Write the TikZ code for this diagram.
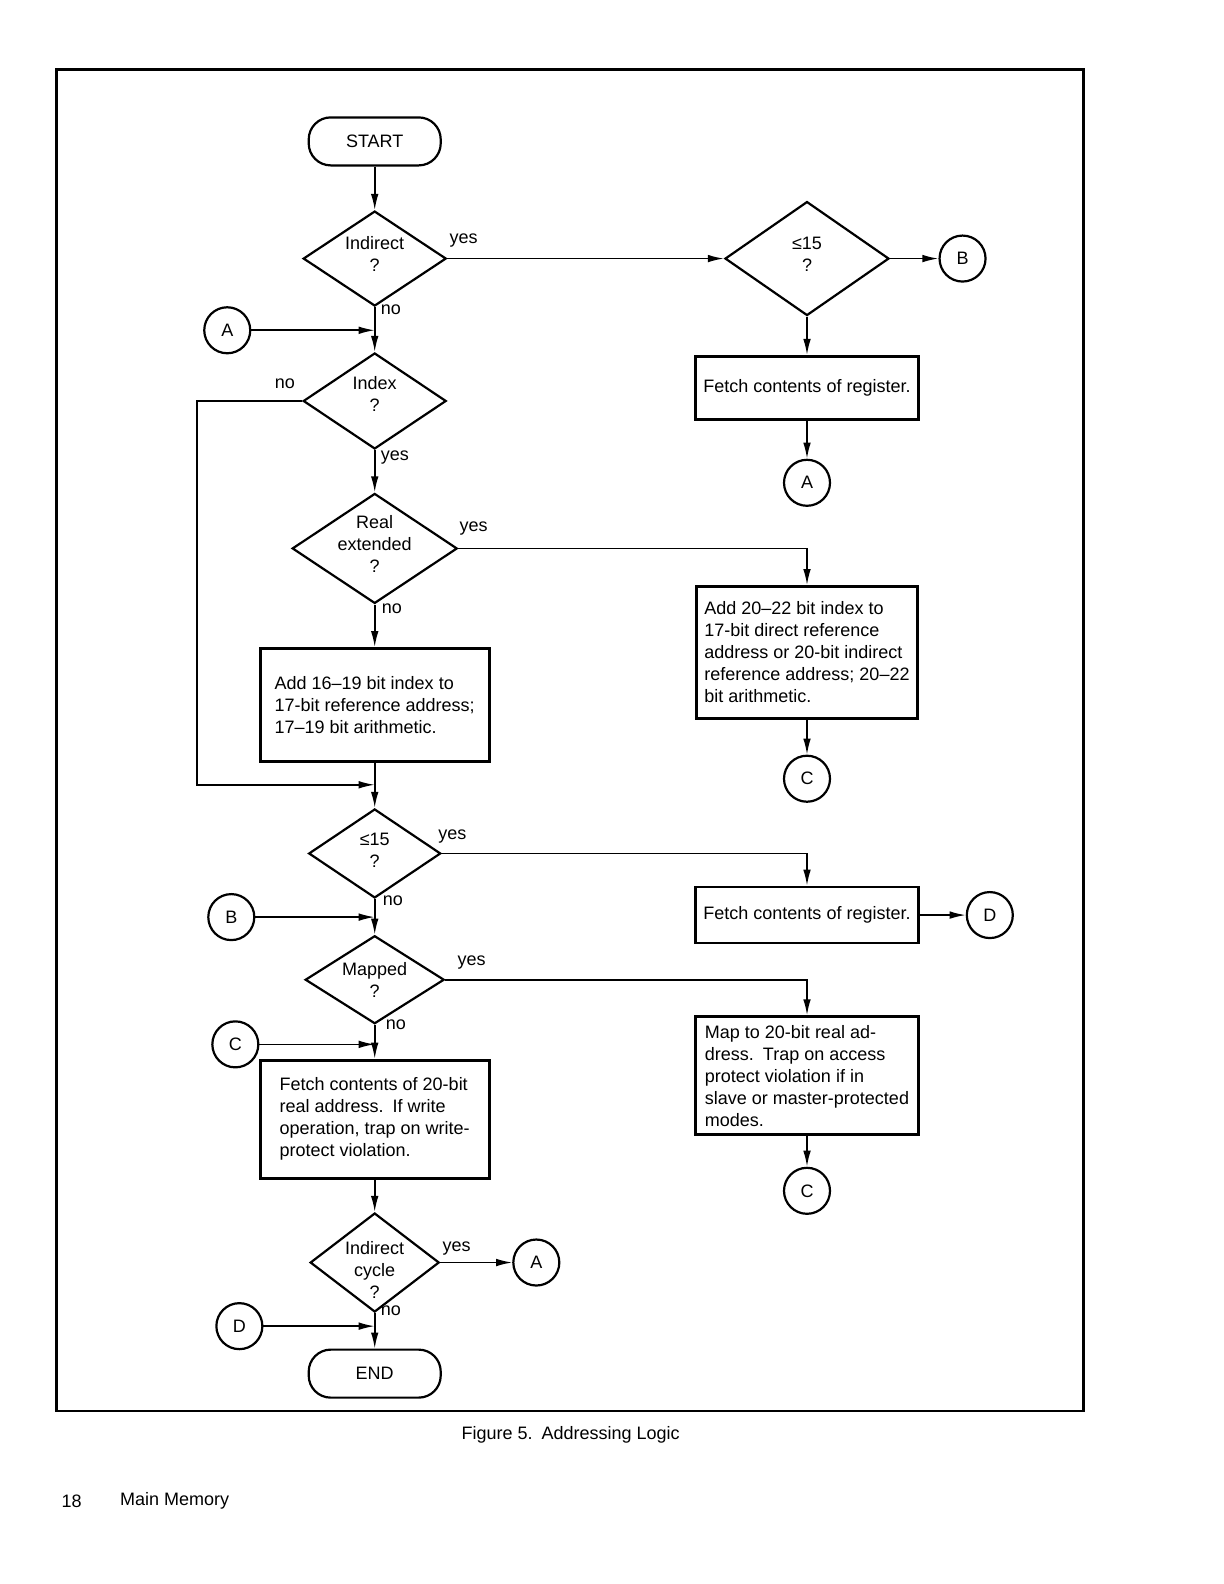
\documentclass[tikz,border=0pt]{standalone}
\usepackage{fontspec}
\setmainfont{Liberation Sans}
\usetikzlibrary{shapes.geometric,arrows.meta}

\tikzset{
  term/.style={draw, line width=1.1pt, rounded corners=11pt, minimum width=66pt, minimum height=24pt},
  decide/.style={diamond, draw, line width=1.1pt, inner sep=-4pt, align=center},
  proc/.style={draw, line width=1.4pt, align=left, inner sep=4pt},
  conn/.style={circle, draw, line width=1.1pt, minimum size=23pt, inner sep=0pt},
  flow/.style={line width=.8pt, -{Latex[length=8pt,width=3.8pt]}},
  tag/.style={inner sep=1pt},
}
\newcommand{\lowertext}[1]{\rule{0pt}{#1}}
\newcommand{\raisetext}[1]{\rule[-#1]{0pt}{#1}}

\begin{document}
\begin{tikzpicture}[x=0.505pt, y=-0.505pt, font=\fontsize{9}{11}\selectfont]
  \useasboundingbox (0pt,0pt) rectangle (612pt,-792pt);
  \draw[line width=1.3pt] (56,69) rectangle (1073,1397);

  % left column
  \node[term] (start) at (371,140) {START};
  \node[decide, minimum width=71.5pt, minimum height=47.5pt] (ind) at (371,256) {Indirect\\?\raisetext{5pt}};
  \node[decide, minimum width=71.5pt, minimum height=48pt] (idx) at (371,397) {Index\\?\raisetext{7pt}};
  \node[decide, minimum width=82.5pt, minimum height=55pt] (real) at (371,543) {Real\\extended\\?\raisetext{4pt}};
  \node[proc, minimum width=114.5pt, minimum height=56.5pt] (add1) at (371,698)
    {Add 16--19 bit index to\\17-bit reference address;\\17--19 bit arithmetic.};
  \node[decide, minimum width=66pt, minimum height=44.5pt] (le2) at (371,845) {≤15\\?\raisetext{3pt}};
  \node[decide, minimum width=69.5pt, minimum height=44pt] (map) at (371,970) {Mapped\\?};
  \node[proc, minimum width=114.5pt, minimum height=59pt] (fetch) at (371,1108)
    {Fetch contents of 20-bit\\real address.\enspace If write\\operation, trap on write-\\protect violation.};
  \node[decide, minimum width=64.5pt, minimum height=46.5pt] (cyc) at (371,1250) {\lowertext{14pt}Indirect\\cycle\\?};
  \node[term] (stop) at (371,1360) {END};

  % right column
  \node[decide, minimum width=82pt, minimum height=57pt] (le1) at (799,256) {≤15\\?\raisetext{4pt}};
  \node[proc, minimum width=111pt, minimum height=31.5pt] (reg1) at (799,384) {Fetch contents of register.};
  \node[proc, minimum width=110.5pt, minimum height=66pt] (add2) at (799,646)
    {Add 20--22 bit index to\\17-bit direct reference\\address or 20-bit indirect\\reference address; 20--22\\bit arithmetic.};
  \node[proc, minimum width=111.5pt, minimum height=28pt] (reg2) at (799,906) {Fetch contents of register.};
  \node[proc, minimum width=111.5pt, minimum height=59pt] (mapbox) at (799,1065)
    {Map to 20-bit real ad-\\dress.\enspace Trap on access\\protect violation if in\\slave or master-protected\\modes.};

  % connectors
  \node[conn] (conB1) at (953,256) {B};
  \node[conn] (conA2) at (799,478) {A};
  \node[conn] (conA1) at (225,327) {A};
  \node[conn] (conC1) at (799,771) {C};
  \node[conn] (conB2) at (229,908) {B};
  \node[conn] (conD1) at (980,906) {D};
  \node[conn] (conC3) at (233,1034) {C};
  \node[conn] (conC2) at (799,1179) {C};
  \node[conn] (conA3) at (531,1250) {A};
  \node[conn] (conD2) at (237,1313) {D};

  \coordinate (j1) at (371,327);
  \coordinate (j2) at (371,777);
  \coordinate (j3) at (371,908);
  \coordinate (j4) at (371,1034);
  \coordinate (j5) at (371,1313);

  % branch labels
  \node[tag] (yes1) at (459,238) {yes};
  \node[tag] (no1) at (387,307) {no};
  \node[tag] (no2) at (282,380) {no};
  \node[tag] (yes2) at (391,453) {yes};
  \node[tag] (yes3) at (469,523) {yes};
  \node[tag] (no3) at (388,603) {no};
  \node[tag] (yes4) at (448,828) {yes};
  \node[tag] (no4) at (389,892) {no};
  \node[tag] (yes5) at (467,953) {yes};
  \node[tag] (no5) at (392,1015) {no};
  \node[tag] (yes6) at (452,1236) {yes};
  \node[tag] (no6) at (387,1298) {no};

  % flow lines
  \draw[flow] (start) -- (ind);
  \draw[flow] (ind) -- (le1);
  \draw[flow] (le1) -- (conB1);
  \draw[flow] (le1) -- (reg1);
  \draw[flow] (reg1) -- (conA2);
  \draw[flow] (ind) -- (idx);
  \draw[flow] (conA1) -- (j1);
  \draw[flow] (idx.west) -- ++(-104,0) |- (j2);
  \draw[flow] (idx) -- (real);
  \draw[flow] (real.east) -| (add2.north);
  \draw[flow] (add2) -- (conC1);
  \draw[flow] (real) -- (add1);
  \draw[flow] (add1) -- (le2);
  \draw[flow] (le2.east) -| (reg2.north);
  \draw[flow] (reg2) -- (conD1);
  \draw[flow] (le2) -- (map);
  \draw[flow] (conB2) -- (j3);
  \draw[flow] (map.east) -| (mapbox.north);
  \draw[flow] (mapbox) -- (conC2);
  \draw[flow] (map) -- (fetch);
  \draw[flow] (conC3) -- (j4);
  \draw[flow] (fetch) -- (cyc);
  \draw[flow] (cyc) -- (conA3);
  \draw[flow] (cyc) -- (stop);
  \draw[flow] (conD2) -- (j5);

  % caption and page foot
  \node (cap) at (565,1421) {Figure 5.\enspace Addressing Logic};
  \node (pg) at (71,1486) {18};
  \node[anchor=west] (sec) at (112,1486) {Main Memory};
\end{tikzpicture}
\end{document}
